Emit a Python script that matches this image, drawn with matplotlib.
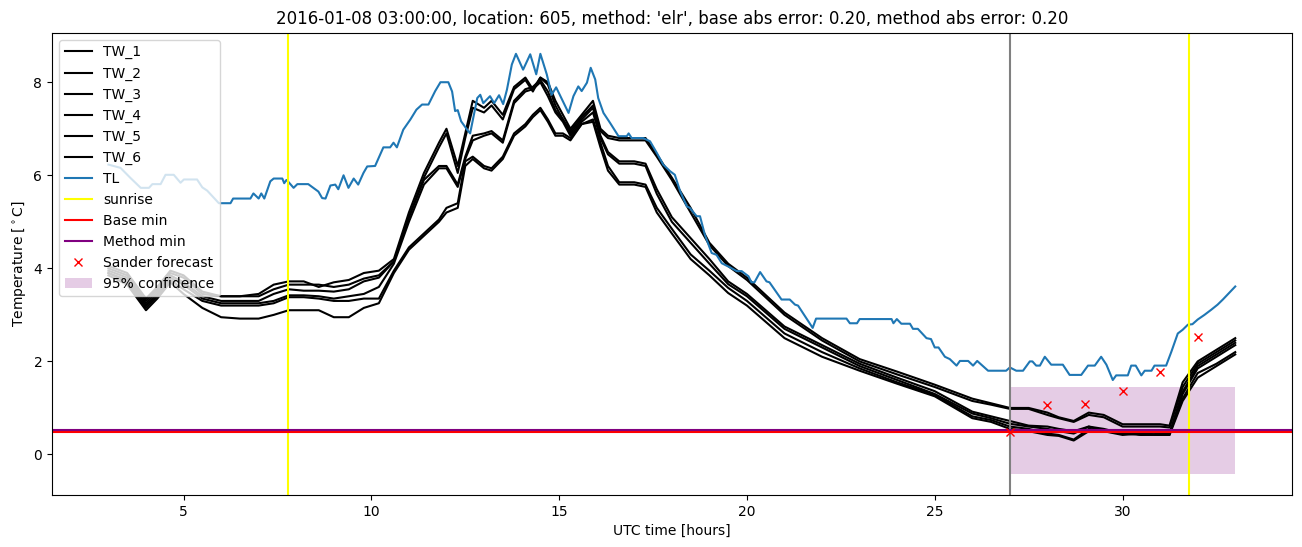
import matplotlib
matplotlib.use('Agg')
import matplotlib.pyplot as plt

# water temperature sensors, shared time axis (UTC hours)
tw_hours = [3.0, 3.5, 4.0, 4.3, 4.65, 5.0, 5.5, 6.0, 6.5, 7.0,
            7.4, 7.8, 8.2, 8.6, 9.0, 9.4, 9.8, 10.2, 10.6, 11.0,
            11.4, 11.8, 12.0, 12.3, 12.5, 12.7, 13.0, 13.2, 13.5, 13.8,
            14.1, 14.3, 14.5, 14.7, 14.9, 15.1, 15.3, 15.6, 15.9, 16.1,
            16.3, 16.6, 17.0, 17.3, 17.6, 18.0, 18.5, 19.0, 19.5, 20.0,
            21.0, 22.0, 23.0, 24.0, 25.0, 26.0, 26.5, 27.0, 27.5, 28.0,
            28.3, 28.7, 29.1, 29.5, 30.0, 30.5, 31.0, 31.25, 31.6, 32.0,
            32.5, 33.0]

tw_1 = [4.05, 3.9, 3.35, 3.6, 3.95, 3.85, 3.5, 3.4, 3.4, 3.45,
        3.65, 3.72, 3.72, 3.6, 3.7, 3.75, 3.9, 3.95, 4.2, 5.2,
        6.05, 6.7, 7.0, 6.2, 6.9, 7.6, 7.45, 7.6, 7.3, 7.9,
        8.1, 7.85, 8.1, 8.0, 7.6, 7.3, 7.0, 7.3, 7.6, 7.0,
        6.85, 6.8, 6.8, 6.8, 6.45, 5.95, 5.3, 4.55, 4.1, 3.8,
        3.05, 2.5, 2.05, 1.78, 1.5, 1.2, 1.1, 1.0, 1.0, 0.9,
        0.8, 0.72, 0.9, 0.85, 0.65, 0.65, 0.65, 0.62, 1.55, 2.0,
        2.25, 2.5]
tw_2 = [4.0, 3.85, 3.3, 3.55, 3.9, 3.8, 3.45, 3.4, 3.4, 3.4,
        3.55, 3.65, 3.65, 3.65, 3.6, 3.65, 3.78, 3.85, 4.15, 5.1,
        5.95, 6.6, 6.9, 6.05, 6.8, 7.45, 7.35, 7.5, 7.2, 7.85,
        8.05, 7.8, 8.1, 7.95, 7.5, 7.2, 6.95, 7.25, 7.5, 6.95,
        6.8, 6.75, 6.75, 6.75, 6.4, 5.9, 5.2, 4.5, 4.05, 3.75,
        3.0, 2.45, 2.0, 1.72, 1.45, 1.15, 1.07, 0.98, 0.98, 0.85,
        0.78, 0.7, 0.85, 0.8, 0.6, 0.6, 0.6, 0.58, 1.45, 1.95,
        2.2, 2.45]
tw_3 = [3.95, 3.8, 3.25, 3.5, 3.85, 3.7, 3.4, 3.3, 3.3, 3.3,
        3.45, 3.55, 3.52, 3.52, 3.5, 3.55, 3.72, 3.8, 4.15, 5.1,
        5.9, 6.2, 6.2, 5.8, 6.4, 6.85, 6.9, 6.95, 6.75, 7.6,
        7.85, 7.9, 8.05, 7.8, 7.4, 7.2, 6.9, 7.2, 7.45, 6.85,
        6.5, 6.3, 6.3, 6.25, 5.7, 5.1, 4.65, 4.2, 3.72, 3.45,
        2.75, 2.35, 1.95, 1.65, 1.36, 0.92, 0.82, 0.72, 0.62, 0.6,
        0.55, 0.5, 0.6, 0.55, 0.45, 0.5, 0.45, 0.45, 1.35, 1.9,
        2.15, 2.4]
tw_4 = [3.9, 3.75, 3.2, 3.45, 3.8, 3.65, 3.35, 3.25, 3.25, 3.25,
        3.3, 3.42, 3.42, 3.4, 3.35, 3.4, 3.45, 3.6, 4.1, 5.0,
        5.8, 6.15, 6.15, 5.75, 6.35, 6.75, 6.85, 6.9, 6.7, 7.55,
        7.8, 7.85, 8.0, 7.7, 7.35, 7.15, 6.85, 7.15, 7.35, 6.8,
        6.45, 6.25, 6.25, 6.2, 5.6, 5.0, 4.55, 4.1, 3.66, 3.4,
        2.7, 2.3, 1.9, 1.6, 1.3, 0.88, 0.78, 0.66, 0.6, 0.55,
        0.5, 0.45, 0.6, 0.5, 0.42, 0.45, 0.42, 0.42, 1.3, 1.85,
        2.1, 2.35]
tw_5 = [3.9, 3.7, 3.15, 3.4, 3.75, 3.55, 3.3, 3.2, 3.2, 3.2,
        3.25, 3.38, 3.38, 3.35, 3.3, 3.3, 3.35, 3.35, 3.95, 4.45,
        4.75, 5.05, 5.3, 5.4, 6.3, 6.4, 6.2, 6.15, 6.4, 6.9,
        7.1, 7.3, 7.45, 7.2, 6.9, 6.9, 6.8, 7.1, 7.2, 6.7,
        6.2, 5.85, 5.85, 5.8, 5.3, 4.85, 4.3, 3.95, 3.58, 3.3,
        2.6, 2.2, 1.85, 1.55, 1.28, 0.82, 0.74, 0.6, 0.55, 0.45,
        0.42, 0.32, 0.55, 0.52, 0.5, 0.42, 0.5, 0.45, 1.2, 1.75,
        1.95, 2.2]
tw_6 = [3.85, 3.65, 3.1, 3.35, 3.7, 3.45, 3.15, 2.95, 2.92, 2.92,
        3.0, 3.1, 3.1, 3.1, 2.95, 2.95, 3.15, 3.25, 3.9, 4.4,
        4.7, 5.0, 5.2, 5.3, 6.2, 6.35, 6.15, 6.1, 6.35, 6.85,
        7.05, 7.25, 7.4, 7.15, 6.85, 6.85, 6.75, 7.1, 7.15, 6.6,
        6.1, 5.8, 5.8, 5.75, 5.2, 4.75, 4.2, 3.85, 3.47, 3.2,
        2.5, 2.1, 1.8, 1.52, 1.25, 0.78, 0.7, 0.55, 0.5, 0.42,
        0.4, 0.3, 0.5, 0.5, 0.45, 0.42, 0.42, 0.42, 1.15, 1.65,
        1.9, 2.15]

# air temperature
tl_hours = [3.0, 3.32, 3.59, 3.86, 4.08, 4.17, 4.39, 4.52, 4.74, 4.92,
            5.01, 5.36, 5.5, 5.63, 5.94, 6.25, 6.32, 6.78, 6.86, 7.0,
            7.07, 7.15, 7.31, 7.4, 7.63, 7.68, 7.74, 7.8, 7.93, 8.03,
            8.32, 8.59, 8.69, 8.78, 8.91, 9.04, 9.12, 9.26, 9.39, 9.53,
            9.65, 9.79, 9.89, 10.1, 10.32, 10.5, 10.59, 10.68, 10.85, 11.04,
            11.2, 11.35, 11.52, 11.7, 11.84, 12.05, 12.15, 12.23, 12.3, 12.39,
            12.55, 12.63, 12.82, 12.9, 12.98, 13.16, 13.27, 13.4, 13.51, 13.61,
            13.74, 13.85, 14.04, 14.23, 14.39, 14.5, 14.67, 14.8, 14.92, 15.25,
            15.38, 15.51, 15.6, 15.74, 15.84, 15.96, 16.04, 16.18, 16.36, 16.58,
            16.8, 16.85, 16.93, 17.24, 17.42, 17.6, 17.77, 17.95, 18.08, 18.22,
            18.4, 18.48, 18.66, 18.75, 18.88, 19.06, 19.19, 19.33, 19.55, 19.73,
            19.86, 20.04, 20.12, 20.2, 20.35, 20.52, 20.6, 20.92, 21.14, 21.28,
            21.36, 21.75, 21.84, 22.65, 22.74, 22.93, 23.0, 23.85, 23.9, 23.99,
            24.11, 24.34, 24.42, 24.55, 24.78, 24.9, 25.0, 25.1, 25.27, 25.4,
            25.58, 25.67, 25.89, 26.02, 26.13, 26.28, 26.42, 26.9, 27.0, 27.17,
            27.35, 27.53, 27.6, 27.7, 27.8, 27.93, 28.1, 28.41, 28.59, 28.9,
            29.08, 29.26, 29.43, 29.57, 29.74, 29.83, 30.14, 30.23, 30.35, 30.5,
            30.59, 30.77, 30.85, 31.16, 31.3, 31.47, 31.6, 31.74, 31.86, 32.0,
            32.18, 32.36, 32.53, 32.67, 33.0]
tl_values = [6.23, 6.16, 5.94, 5.73, 5.73, 5.81, 5.81, 6.01, 6.01, 5.84,
             5.91, 5.91, 5.74, 5.67, 5.4, 5.4, 5.5, 5.5, 5.61, 5.5,
             5.61, 5.5, 5.87, 5.93, 5.93, 5.83, 5.9, 5.85, 5.73, 5.81,
             5.81, 5.65, 5.51, 5.5, 5.78, 5.8, 5.7, 6.0, 5.73, 5.93,
             5.8, 6.05, 6.19, 6.2, 6.6, 6.6, 6.7, 6.6, 6.98, 7.2,
             7.41, 7.52, 7.52, 7.81, 8.0, 8.0, 7.8, 7.38, 7.4, 7.16,
             6.98, 6.9, 7.66, 7.73, 7.55, 7.7, 7.55, 7.72, 7.53, 7.84,
             8.38, 8.61, 8.27, 8.6, 8.17, 8.61, 8.17, 7.73, 7.89, 7.34,
             7.7, 7.91, 7.81, 7.99, 8.31, 8.06, 7.66, 7.34, 7.12, 6.84,
             6.84, 6.9, 6.8, 6.8, 6.73, 6.48, 6.23, 6.09, 6.01, 5.66,
             5.33, 5.3, 5.12, 5.12, 4.72, 4.33, 4.29, 4.11, 4.02, 3.94,
             3.94, 3.83, 3.7, 3.7, 3.92, 3.72, 3.7, 3.33, 3.33, 3.22,
             3.2, 2.72, 2.92, 2.92, 2.82, 2.82, 2.91, 2.91, 2.82, 2.91,
             2.81, 2.81, 2.7, 2.7, 2.5, 2.48, 2.3, 2.3, 2.1, 2.05,
             1.91, 2.01, 2.01, 1.91, 2.01, 1.9, 1.8, 1.8, 1.87, 1.8,
             1.8, 2.0, 2.0, 1.91, 1.91, 2.1, 1.93, 1.93, 1.71, 1.71,
             1.91, 1.91, 2.1, 1.93, 1.6, 1.7, 1.7, 1.91, 1.91, 1.7,
             1.8, 1.8, 1.91, 1.91, 2.21, 2.6, 2.68, 2.79, 2.8, 2.9,
             3.0, 3.11, 3.22, 3.33, 3.61]

sunrise_hours = [7.78, 31.78]
forecast_start = 27.0
base_min = 0.49
method_min = 0.52

sander_hours = [27, 28, 29, 30, 31, 32]
sander_values = [0.49, 1.07, 1.09, 1.37, 1.78, 2.53]

conf_hours = [27.0, 33.0]
conf_lower = [-0.42, -0.42]
conf_upper = [1.44, 1.44]

fig, ax = plt.subplots(figsize=(13.02, 5.47), dpi=100)
fig.subplots_adjust(left=0.04, right=0.992, top=0.94, bottom=0.095)

tw_all = [tw_1, tw_2, tw_3, tw_4, tw_5, tw_6]
for i in range(len(tw_all)):
	ax.plot(tw_hours, tw_all[i], color='black', label='TW_' + str(i + 1))
ax.plot(tl_hours, tl_values, color='C0', label='TL')

ax.axvline(forecast_start, color='grey')
ax.axvline(sunrise_hours[0], color='yellow', label='sunrise')
ax.axvline(sunrise_hours[1], color='yellow')
ax.axhline(base_min, color='red', label='Base min')
ax.axhline(method_min, color='purple', label='Method min')
ax.plot(sander_hours, sander_values, 'x', color='red', label='Sander forecast')
ax.fill_between(conf_hours, conf_lower, conf_upper, color='purple', alpha=0.2,
                linewidth=0, label='95% confidence')

ax.set_xlabel('UTC time [hours]')
ax.set_ylabel(r'Temperature [$^\circ$C]')
ax.set_title("2016-01-08 03:00:00, location: 605, method: 'elr', base abs error: 0.20, method abs error: 0.20")
ax.legend(loc='upper left')

plt.savefig('out.png')
